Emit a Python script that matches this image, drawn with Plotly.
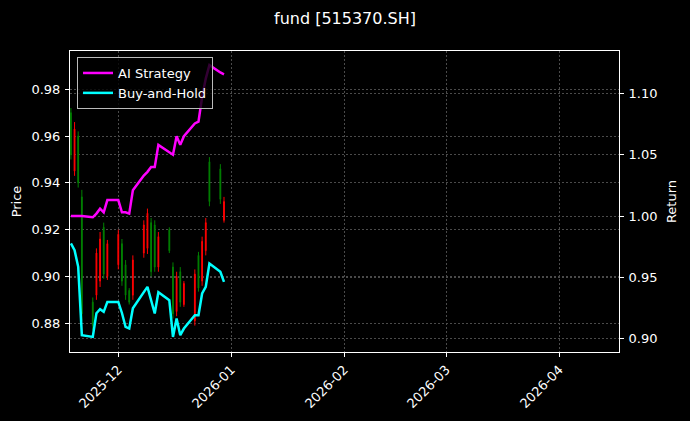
import plotly.graph_objects as go

dates = ["2025-11-18", "2025-11-19", "2025-11-20", "2025-11-21", "2025-11-24",
         "2025-11-25", "2025-11-26", "2025-11-27", "2025-11-28", "2025-12-01",
         "2025-12-02", "2025-12-03", "2025-12-04", "2025-12-05", "2025-12-08",
         "2025-12-09", "2025-12-10", "2025-12-11", "2025-12-12", "2025-12-15",
         "2025-12-16", "2025-12-17", "2025-12-18", "2025-12-19", "2025-12-22",
         "2025-12-23", "2025-12-24", "2025-12-25", "2025-12-26", "2025-12-29",
         "2025-12-30"]

open_ = [0.970, 0.945, 0.960, 0.934, 0.889, 0.892, 0.898, 0.921, 0.900, 0.905,
         0.914, 0.905, 0.894, 0.892, 0.910, 0.912, 0.923, 0.922, 0.904, 0.920,
         0.904, 0.885, 0.902, 0.888, 0.881, 0.909, 0.898, 0.911, 0.949, 0.946,
         0.924]
high = [0.972, 0.966, 0.962, 0.937, 0.891, 0.912, 0.919, 0.923, 0.9156, 0.920,
        0.916, 0.907, 0.895, 0.909, 0.924, 0.929, 0.925, 0.924, 0.919, 0.921,
        0.906, 0.902, 0.904, 0.898, 0.903, 0.9105, 0.917, 0.925, 0.951, 0.948,
        0.934]
low = [0.950, 0.943, 0.938, 0.881, 0.877, 0.890, 0.8955, 0.899, 0.8985, 0.903,
       0.896, 0.890, 0.888, 0.890, 0.908, 0.9096, 0.900, 0.902, 0.902, 0.910,
       0.882, 0.883, 0.887, 0.887, 0.879, 0.8935, 0.896, 0.909, 0.930, 0.931,
       0.923]
close = [0.952, 0.963, 0.940, 0.884, 0.879, 0.910, 0.916, 0.901, 0.914, 0.918,
         0.898, 0.892, 0.889, 0.907, 0.922, 0.927, 0.902, 0.904, 0.917, 0.911,
         0.884, 0.900, 0.889, 0.897, 0.901, 0.895, 0.915, 0.923, 0.932, 0.933,
         0.932]

ai_strategy = [1.000, 1.000, 1.000, 1.000, 0.999, 1.002, 1.006, 1.003, 1.013, 1.013,
               1.003, 1.003, 1.002, 1.021, 1.033, 1.036, 1.040, 1.040, 1.058, 1.052,
               1.050, 1.065, 1.058, 1.065, 1.0755, 1.077, 1.097, 1.112, 1.123, 1.117,
               1.1155]
buy_hold = [0.9777, 0.9722, 0.9586, 0.9029, 0.9015, 0.9208, 0.9241, 0.9219, 0.9300, 0.9300,
            0.9210, 0.9096, 0.9083, 0.9249, 0.9380, 0.9423, 0.9314, 0.9206, 0.9379, 0.9314,
            0.9015, 0.9165, 0.9029, 0.9083, 0.9192, 0.9192, 0.9369, 0.9423, 0.9613, 0.9545,
            0.9463]

FONT = "DejaVu Sans"
GRID = "#4a4a4a"

fig = go.Figure()
fig.add_trace(go.Candlestick(
    x=dates, open=open_, high=high, low=low, close=close,
    increasing=dict(line=dict(color="#ff0000", width=1), fillcolor="#ff0000"),
    decreasing=dict(line=dict(color="#008000", width=1), fillcolor="#008000"),
    whiskerwidth=0, showlegend=False, yaxis="y", hoverinfo="skip"))
fig.add_trace(go.Scatter(x=dates, y=ai_strategy, mode="lines", name="AI Strategy",
                         line=dict(color="#ff00ff", width=2.5), yaxis="y2"))
fig.add_trace(go.Scatter(x=dates, y=buy_hold, mode="lines", name="Buy-and-Hold",
                         line=dict(color="#00ffff", width=2.5), yaxis="y2"))

axis_common = dict(
    showline=True, linecolor="white", linewidth=1, automargin=False,
    ticks="outside", ticklen=4, tickcolor="white", tickwidth=1,
    showgrid=True, gridcolor=GRID, gridwidth=0.6, griddash="2px,2px",
    zeroline=False, tickfont=dict(size=13, color="white", family=FONT),
)

fig.update_layout(
    width=690, height=421,
    margin=dict(l=70, r=71, t=51, b=69, autoexpand=False),
    paper_bgcolor="black", plot_bgcolor="black",
    font=dict(family=FONT, color="white", size=13),
    boxgap=0.68,
    title=dict(text="fund [515370.SH]", x=0.5, xanchor="center", y=0.957, yanchor="middle",
               font=dict(size=16, color="white", family=FONT)),
    xaxis=dict(type="date", range=["2025-11-17 18:00", "2026-04-17 09:00"],
               tickformat="%Y-%m", dtick="M1", tick0="2025-12-01", tickangle=-45,
               mirror=True, rangeslider=dict(visible=False), **axis_common),
    yaxis=dict(range=[0.8677, 0.99637], dtick=0.02, tick0=0.88, tickformat=".2f",
               mirror=True, ticklabelstandoff=2,
               title=dict(text="Price", standoff=6, font=dict(size=13, color="white", family=FONT)),
               **axis_common),
    yaxis2=dict(range=[0.8892, 1.1345], dtick=0.05, tick0=0.9, tickformat=".2f",
                overlaying="y", side="right", ticklabelstandoff=2,
                title=dict(text="Return", standoff=10, font=dict(size=13, color="white", family=FONT)),
                **axis_common),
    legend=dict(x=0.0128, y=0.98, xanchor="left", yanchor="top",
                bgcolor="rgba(0,0,0,0.8)", bordercolor="#bbbbbb", borderwidth=1,
                font=dict(size=13, color="white", family=FONT), itemwidth=30,
                tracegroupgap=0),
    showlegend=True,
)

fig.write_html("out.html", config={"displayModeBar": False},
               post_script="document.body.style.margin='0';document.body.style.background='black';")
